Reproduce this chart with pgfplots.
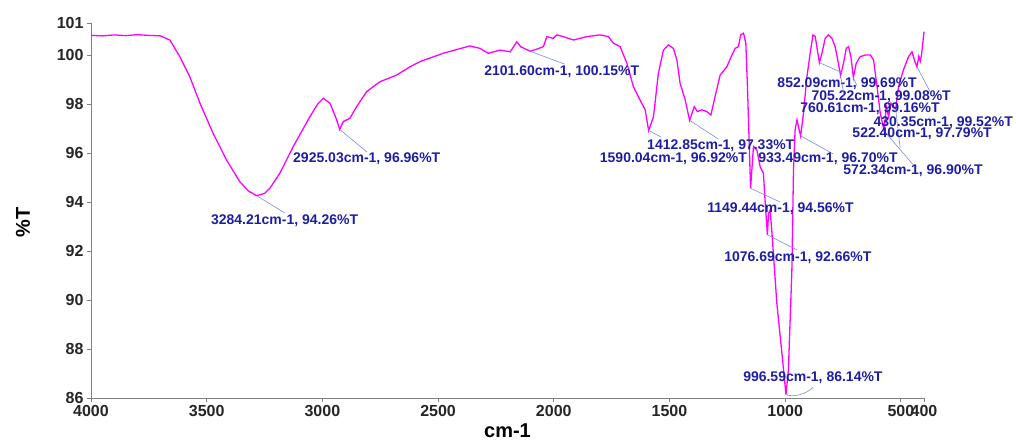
\documentclass[border=0pt]{standalone}
\usepackage{fontspec}
\setmainfont{Liberation Sans}
\usepackage{pgfplots}
\pgfplotsset{compat=1.18}
\usepackage{pgfplotstable}
\definecolor{spec}{RGB}{255,0,255}
\definecolor{annot}{RGB}{30,30,165}
\definecolor{lead}{RGB}{120,140,230}
\definecolor{axgray}{RGB}{128,128,128}

\pgfplotstableread{
x y
4000 100.80
3950 100.78
3900 100.82
3850 100.79
3800 100.83
3750 100.80
3700 100.78
3659 100.61
3616 99.93
3573 99.11
3529 98.03
3472 96.80
3414 95.71
3357 94.83
3320 94.45
3284.21 94.26
3250 94.35
3227 94.56
3184 95.17
3126 96.26
3054 97.48
3020 98.00
2996 98.23
2967 98.03
2940 97.40
2925.03 96.96
2910 97.28
2881 97.42
2852 97.89
2809 98.50
2751 98.91
2679 99.18
2621 99.52
2578 99.73
2478 100.07
2362 100.37
2319 100.27
2283 100.07
2232 100.20
2188 100.13
2160 100.54
2143 100.34
2101.6 100.15
2070 100.25
2045 100.34
2030 100.75
2002 100.68
1987 100.82
1959 100.75
1915 100.61
1857 100.75
1800 100.82
1764 100.75
1742 100.48
1713 100.34
1684 99.66
1656 98.71
1627 98.16
1605 97.76
1590.04 96.92
1569 97.48
1548 99.25
1526 100.20
1505 100.41
1483 100.27
1468 99.80
1454 98.84
1432 98.16
1412.85 97.33
1393 97.89
1379 97.69
1360 97.76
1339 97.69
1321 97.55
1303 98.30
1281 99.18
1252 99.52
1230 100.00
1216 100.27
1202 100.34
1192 100.82
1180 100.89
1170 100.48
1163 98.71
1149.44 94.56
1144 95.31
1137 96.26
1122 96.12
1108 95.44
1094 95.17
1087 94.08
1076.69 92.66
1072 93.54
1065 93.67
1058 92.86
1036 89.87
1014 87.82
996.59 86.14
986 87.14
971 91.22
964 95.31
957 96.94
949 97.35
933.49 96.70
928 97.07
921 97.62
906 99.11
892 100.07
880 100.82
870 100.75
852.09 99.69
841 100.07
827 100.68
813 100.82
798 100.68
784 100.34
770 99.66
760.61 99.16
748 99.66
736 100.27
726 100.34
716 99.93
705.22 99.08
693 99.66
676 99.93
654 100.00
632 100.00
618 99.80
603 98.71
589 97.62
572.34 96.90
563 97.89
553 97.48
543 98.03
522.40 97.79
510 98.71
489 99.39
467 99.93
452 100.13
440 99.75
430.35 99.52
422 99.95
416 99.75
410 100.05
404 100.60
400 100.95
}\spectrum

\begin{document}
\begin{tikzpicture}
\useasboundingbox (-91pt,-45pt) rectangle (925pt,398pt);
\begin{axis}[
  scale only axis, width=833pt, height=375pt,
  x dir=reverse, xmin=400, xmax=4000, ymin=86, ymax=101.306,
  axis x line*=bottom, axis y line*=left,
  axis line style={axgray, line width=0.8pt, -},
  xtick={4000,3500,3000,2500,2000,1500,1000,500,400},
  ytick={86,88,90,92,94,96,98,100,101.306},
  yticklabels={86,88,90,92,94,96,98,100,101},
  tick style={axgray, line width=0.8pt},
  tick align=outside, major tick length=4pt,
  /pgf/number format/1000 sep={},
  /pgf/number format/assume math mode=true,
  ticklabel style={font=\bfseries\fontsize{16}{18}\selectfont, black!85},
  clip=false,
  xlabel={cm-1}, ylabel={\%T},
  label style={font=\bfseries\fontsize{20}{22}\selectfont, black},
  xlabel style={at={(rel axis cs:0.5,0)}, anchor=north, yshift=-26pt, inner sep=0pt},
  ylabel style={at={(rel axis cs:-0.0816,0.469)}, anchor=center, inner sep=0pt},
]
\addplot[spec, line width=1.3pt] table[x=x, y=y] {\spectrum};

\begin{scope}[every node/.style={anchor=west, inner sep=0pt, text=annot, font=\bfseries\fontsize{14}{16}\selectfont}]
\draw[lead, line width=0.6pt] (axis cs:3284.21,94.26) -- (axis cs:3162,93.55);
\node at (axis cs:3482,93.22) {3284.21cm-1, 94.26\%T};
\draw[lead, line width=0.6pt] (axis cs:2925.03,96.96) -- (axis cs:2807,96.04);
\node at (axis cs:3127,95.76) {2925.03cm-1, 96.96\%T};
\draw[lead, line width=0.6pt] (axis cs:2101.6,100.15) -- (axis cs:1954,99.63);
\node at (axis cs:2301,99.31) {2101.60cm-1, 100.15\%T};
\draw[lead, line width=0.6pt] (axis cs:1412.85,97.33) -- (axis cs:1289,96.57);
\node at (axis cs:1597,96.29) {1412.85cm-1, 97.33\%T};
\draw[lead, line width=0.6pt] (axis cs:1590.04,96.92) -- (axis cs:1536,96.65);
\node[anchor=east] at (axis cs:1164,95.76) {1590.04cm-1, 96.92\%T};
\draw[lead, line width=0.6pt] (axis cs:933.49,96.70) -- (axis cs:792,95.96);
\node at (axis cs:1117,95.76) {933.49cm-1, 96.70\%T};
\draw[lead, line width=0.6pt] (axis cs:572.34,96.90) -- (axis cs:446,95.51);
\node at (axis cs:749,95.27) {572.34cm-1, 96.90\%T};
\draw[lead, line width=0.6pt] (axis cs:1149.44,94.56) -- (axis cs:1022,94.0);
\node at (axis cs:1337,93.71) {1149.44cm-1, 94.56\%T};
\draw[lead, line width=0.6pt] (axis cs:1076.69,92.66) -- (axis cs:948,92.04);
\node at (axis cs:1264,91.71) {1076.69cm-1, 92.66\%T};
\draw[lead, line width=0.6pt] (axis cs:996.59,86.14) .. controls (axis cs:960,86.0) and (axis cs:900,86.2) .. (axis cs:879,86.45);
\node at (axis cs:1182,86.82) {996.59cm-1, 86.14\%T};
\draw[lead, line width=0.6pt] (axis cs:852.09,99.69) -- (axis cs:753,99.27);
\node at (axis cs:1034,98.82) {852.09cm-1, 99.69\%T};
\draw[lead, line width=0.6pt] (axis cs:705.22,99.08) -- (axis cs:690,98.75);
\node at (axis cs:887,98.29) {705.22cm-1, 99.08\%T};
\draw[lead, line width=0.6pt] (axis cs:760.61,99.16) -- (axis cs:745,98.3);
\node at (axis cs:935,97.80) {760.61cm-1, 99.16\%T};
\draw[lead, line width=0.6pt] (axis cs:430.35,99.52) -- (axis cs:373,98.49);
\node at (axis cs:619,97.22) {430.35cm-1, 99.52\%T};
\draw[lead, line width=0.6pt] (axis cs:522.40,97.79) -- (axis cs:503,96.2);
\node at (axis cs:710,96.78) {522.40cm-1, 97.79\%T};
\end{scope}
\end{axis}
\end{tikzpicture}
\end{document}
